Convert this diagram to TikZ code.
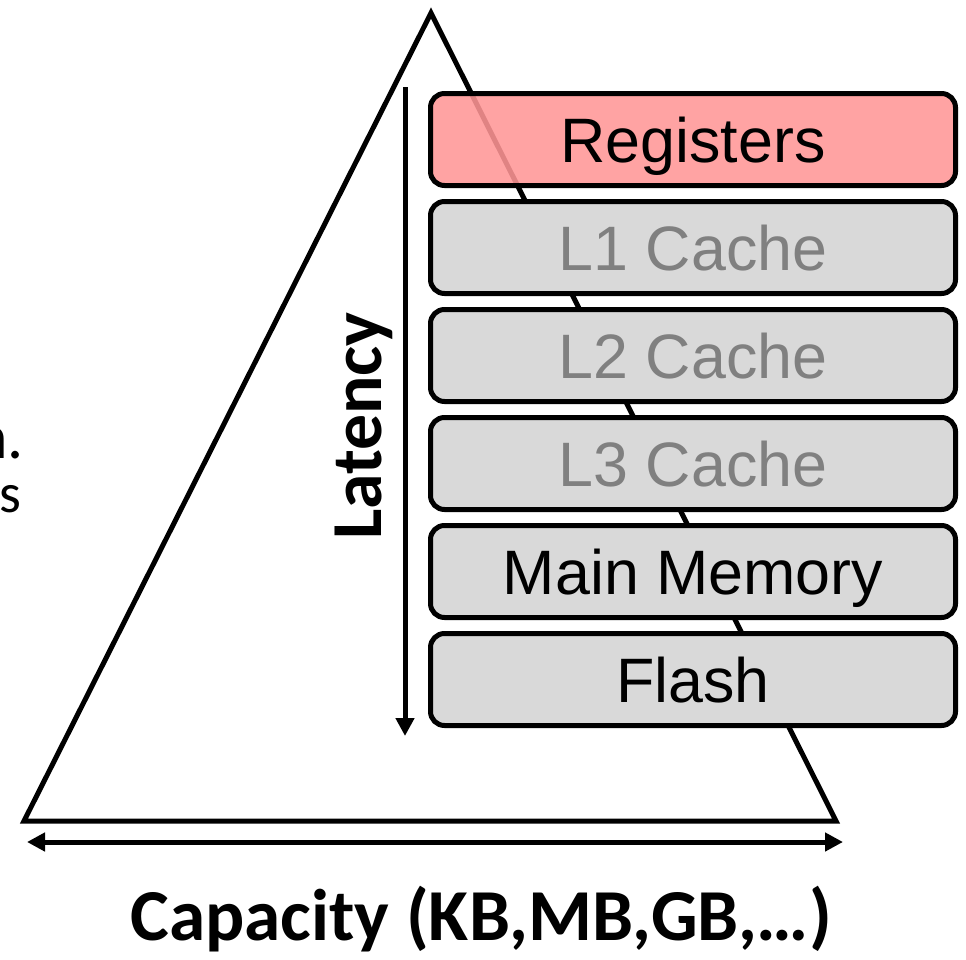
\documentclass[tikz,border=0pt]{standalone}
\usepackage{fontspec}
\setmainfont{Liberation Sans}
\newfontfamily\calib{Carlito}
\usetikzlibrary{arrows.meta}
\definecolor{regfill}{RGB}{255,150,150}
\definecolor{boxgray}{RGB}{217,217,217}
\definecolor{txtgray}{RGB}{128,128,128}
\tikzset{
  membox/.style={draw, line width=5bp, rounded corners=14bp, minimum width=525bp,
    minimum height=92bp, text height=45bp, text depth=0pt, inner sep=0pt,
    font=\fontsize{63}{63}\selectfont, fill=boxgray},
  thick arrow/.style={line width=5bp, -{Triangle[length=18bp,width=18bp]}},
  both arrow/.style={line width=5bp, {Triangle[length=18bp,width=18bp]}-{Triangle[length=18bp,width=18bp]}},
  boldlabel/.style={font=\calib\bfseries\fontsize{72}{72}\selectfont, inner sep=0pt},
}
\begin{document}
\begin{tikzpicture}[x=1bp, y=-1bp]
\useasboundingbox (0,0) rectangle (966,960);
% triangle
\coordinate (apex) at (431,13);
\coordinate (bl) at (24,821);
\coordinate (br) at (836,821);
\draw[line width=5bp, line join=miter] (apex) -- (bl) -- (br) -- cycle;
% memory boxes
\node[membox, fill=regfill, fill opacity=0.88, text opacity=1] (reg) at (693,139.5) {Registers};
\node[membox, text=txtgray] (l1) at (693,247.5) {L1 Cache};
\node[membox, text=txtgray] (l2) at (693,355.5) {L2 Cache};
\node[membox, text=txtgray] (l3) at (693,463.5) {L3 Cache};
\node[membox] (mm) at (693,571.5) {Main Memory};
\node[membox] (fl) at (693,679.5) {Flash};
% latency arrow
\coordinate (lattop) at (405,87);
\coordinate (latbot) at (405,736);
\draw[thick arrow] (lattop) -- (latbot);
\node[boldlabel, rotate=90, anchor=base] (lat) at (381,426) {Latency};
% capacity arrow
\coordinate (capl) at (27,842);
\coordinate (capr) at (843,842);
\draw[both arrow] (capl) -- (capr);
\node[boldlabel, font=\calib\bfseries\fontsize{73.5}{73.5}\selectfont, anchor=base] (cap) at (481,940) {Capacity (KB,MB,GB,…)};
% cut-off text fragments at left
\node[font=\calib\fontsize{64}{64}\selectfont, anchor=base east, inner sep=0pt] (frag1) at (24,458) {n.};
\node[font=\calib\fontsize{56}{56}\selectfont, anchor=base east, inner sep=0pt] (frag2) at (22,512) {s};
\end{tikzpicture}
\end{document}
